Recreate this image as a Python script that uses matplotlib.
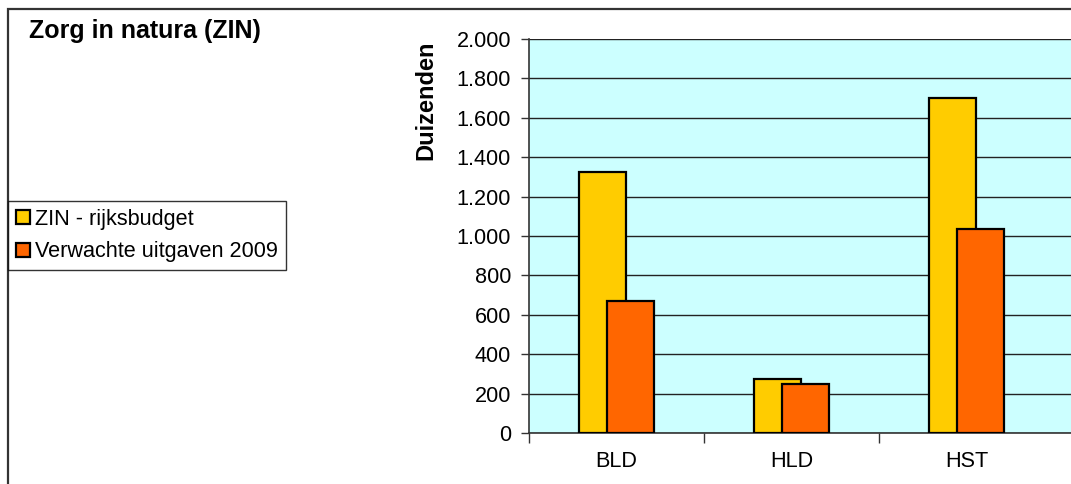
import matplotlib
matplotlib.use("Agg")
import matplotlib.pyplot as plt
from matplotlib.patches import Rectangle
from matplotlib.ticker import FixedLocator, NullFormatter
import numpy as np

plt.rcParams['font.family'] = ['Liberation Sans', 'DejaVu Sans']

# ===== Data (bedragen x 1000) =====
categories = ['BLD', 'HLD', 'HST']
rijksbudget = [1323, 276, 1700]
uitgaven_2009 = [670, 247, 1037]
series_names = ['ZIN - rijksbudget', 'Verwachte uitgaven 2009']
yticks = [0, 200, 400, 600, 800, 1000, 1200, 1400, 1600, 1800, 2000]

W, H = 1071, 484
FS = 15.6
fig = plt.figure(figsize=(W / 100, H / 100), dpi=100)
fig.patch.set_facecolor('white')

# plot area runs past the right edge of the frame
ax = fig.add_axes([529 / W, (H - 433) / H, 1.2, (433 - 39) / H])
ax.set_facecolor('#CCFFFF')

x = np.arange(len(categories))
bw = 0.266
ax.bar(x - 0.08, rijksbudget, bw, color='#FFCC00', edgecolor='black',
       lw=1.6, zorder=3, label=series_names[0])
ax.bar(x + 0.08, uitgaven_2009, bw, color='#FF6600', edgecolor='black',
       lw=1.6, zorder=4, label=series_names[1])

ax.set_xlim(-0.5, -0.5 + 1.2 * W / 175)
ax.set_ylim(0, 2000)

# y axis
ax.set_yticks(yticks)
ax.set_yticklabels([f'{v:,}'.replace(',', '.') for v in yticks], fontsize=FS)
ax.tick_params(axis='y', direction='out', length=6, width=1, color='#333333', pad=7)
ax.yaxis.grid(True, color='#222222', lw=1, zorder=1)

# x axis: ticks between categories, labels centred
ax.xaxis.set_major_locator(FixedLocator([-0.5, 0.5, 1.5]))
ax.xaxis.set_major_formatter(NullFormatter())
ax.xaxis.set_minor_locator(FixedLocator(list(x)))
ax.set_xticklabels(categories, minor=True, fontsize=FS)
ax.tick_params(axis='x', which='major', direction='out', length=7, width=1, color='#333333')
ax.tick_params(axis='x', which='minor', length=0, pad=13)

for s in ['top', 'right']:
    ax.spines[s].set_visible(False)
for s in ['left', 'bottom']:
    ax.spines[s].set_color('#333333')
    ax.spines[s].set_linewidth(1.2)
ax.set_axisbelow(True)

fig.text(426 / W, (H - 100) / H, 'Duizenden', rotation=90, fontsize=17,
         fontweight='bold', ha='center', va='center')

fig.text(29 / W, (H - 38) / H, 'Zorg in natura (ZIN)', fontsize=18,
         fontweight='bold', ha='left', va='baseline')

leg = fig.legend(loc='upper left', bbox_to_anchor=(8 / W, (H - 201) / H),
                 fontsize=FS, frameon=True, fancybox=False, borderpad=0.35,
                 handlelength=0.65, handleheight=0.65, handletextpad=0.25,
                 labelspacing=0.55, borderaxespad=0)
leg.get_frame().set_edgecolor('black')
leg.get_frame().set_linewidth(1)

# outer frame of the chart
fig.add_artist(Rectangle((8 / W, -0.1), 1.5, (H - 9) / H + 0.1, fill=False,
                         edgecolor='#333333', lw=1.6, transform=fig.transFigure))

fig.savefig('out.png', dpi=100)
